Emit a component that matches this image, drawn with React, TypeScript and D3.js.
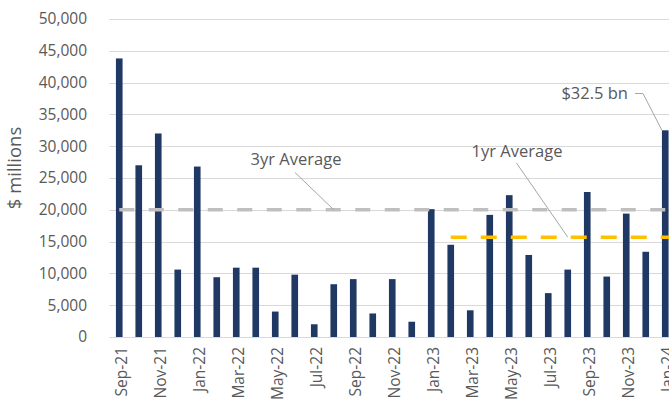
import React, { useEffect, useRef } from 'react';
import * as d3 from 'd3';

const months = [
  'Sep-21', 'Oct-21', 'Nov-21', 'Dec-21', 'Jan-22', 'Feb-22', 'Mar-22', 'Apr-22',
  'May-22', 'Jun-22', 'Jul-22', 'Aug-22', 'Sep-22', 'Oct-22', 'Nov-22', 'Dec-22',
  'Jan-23', 'Feb-23', 'Mar-23', 'Apr-23', 'May-23', 'Jun-23', 'Jul-23', 'Aug-23',
  'Sep-23', 'Oct-23', 'Nov-23', 'Dec-23', 'Jan-24',
];

const values = [
  43800, 27000, 32000, 10600, 26800, 9400, 10900, 10900,
  4000, 9800, 2000, 8300, 9100, 3700, 9100, 2400,
  20100, 14500, 4200, 19200, 22300, 12900, 6900, 10600,
  22800, 9500, 19400, 13400, 32500,
];

const yTicks = [0, 5000, 10000, 15000, 20000, 25000, 30000, 35000, 40000, 45000, 50000];

const avg3yr = 20000;
const avg1yr = 15700;
const avg1yrStart = 'Feb-23';

const width = 669;
const height = 404;
const font = '"Open Sans", sans-serif';
const textColor = '#595959';

const App = () => {
  const ref = useRef<SVGSVGElement>(null);

  useEffect(() => {
    const svg = d3.select(ref.current);
    svg.selectAll('*').remove();

    const margin = { top: 19, right: -6, bottom: 67, left: 109.5 };

    const x = d3
      .scaleBand()
      .domain(months)
      .range([margin.left, width - margin.right])
      .paddingInner(0.66)
      .paddingOuter(0.33);

    const y = d3
      .scaleLinear()
      .domain([0, 50000])
      .range([height - margin.bottom, margin.top]);

    const cx = (m) => x(m) + x.bandwidth() / 2;

    // gridlines
    svg.append('g')
      .selectAll('line')
      .data(yTicks)
      .join('line')
      .attr('x1', margin.left)
      .attr('x2', width)
      .attr('y1', (d) => Math.round(y(d)) + 0.5)
      .attr('y2', (d) => Math.round(y(d)) + 0.5)
      .attr('stroke', '#d9d9d9')
      .attr('stroke-width', 1);

    // y axis labels
    svg.append('g')
      .attr('transform', `translate(87,0)`)
      .call(d3.axisLeft(y).tickValues(yTicks).tickSize(0).tickPadding(0).tickFormat(d3.format(',')))
      .call((g) => g.select('.domain').remove())
      .selectAll('text')
      .attr('fill', textColor)
      .style('font-family', font)
      .style('font-size', '15.5px');

    svg.append('text')
      .attr('transform', `translate(21,${168}) rotate(-90)`)
      .attr('text-anchor', 'middle')
      .attr('fill', textColor)
      .style('font-family', font)
      .style('font-size', '18.5px')
      .text('$ millions');

    // bars
    svg.append('g')
      .attr('fill', '#1f3864')
      .selectAll('rect')
      .data(values)
      .join('rect')
      .attr('x', (d, i) => x(months[i]))
      .attr('width', x.bandwidth())
      .attr('y', (d) => y(d))
      .attr('height', (d) => y(0) - y(d));

    // x axis labels
    svg.append('g')
      .attr('transform', `translate(0,${y(0)})`)
      .call(
        d3.axisBottom(x)
          .tickSize(0)
          .tickPadding(0)
          .tickFormat((d, i) => (i % 2 === 0 ? d : ''))
      )
      .call((g) => g.select('.domain').remove())
      .selectAll('text')
      .attr('transform', 'rotate(-90)')
      .attr('text-anchor', 'end')
      .attr('x', -10)
      .attr('y', 2)
      .attr('dy', '0.35em')
      .attr('fill', textColor)
      .style('font-family', font)
      .style('font-size', '15.5px');

    // averages
    const line = d3.line<[number, number]>();
    svg.append('path')
      .attr('d', line([[cx(months[0]), y(avg3yr)], [cx(months[months.length - 1]) + 10, y(avg3yr)]]))
      .attr('stroke', '#bfbfbf')
      .attr('stroke-width', 3.5)
      .attr('stroke-dasharray', '15,14.5')
      .attr('fill', 'none');

    svg.append('path')
      .attr('d', line([[cx(avg1yrStart), y(avg1yr)], [cx(months[months.length - 1]) + 10, y(avg1yr)]]))
      .attr('stroke', '#ffc000')
      .attr('stroke-width', 3.5)
      .attr('stroke-dasharray', '16,14')
      .attr('fill', 'none');

    // annotations
    const leader = (pts) =>
      svg.append('path')
        .attr('d', line(pts))
        .attr('stroke', '#a6a6a6')
        .attr('stroke-width', 1)
        .attr('fill', 'none');

    const label = (tx, ty, anchor, txt) =>
      svg.append('text')
        .attr('x', tx)
        .attr('y', ty)
        .attr('dy', '0.35em')
        .attr('text-anchor', anchor)
        .attr('fill', textColor)
        .style('font-family', font)
        .style('font-size', '16.5px')
        .text(txt);

    const p3 = [cx('Aug-22'), y(avg3yr)];
    leader([[295, 172.5], p3]);
    label(296, 159.5, 'middle', '3yr Average');

    const p1 = [cx('Aug-23'), y(avg1yr)];
    leader([[516.5, 163], p1]);
    label(517, 151.5, 'middle', '1yr Average');

    const last = months[months.length - 1];
    const pb = [x(last), y(values[values.length - 1])];
    leader([[635, 93.5], [643, 93.5], pb]);
    label(628, 93.5, 'end', '$32.5 bn');
  }, []);

  return (
    <svg
      ref={ref}
      width={width}
      height={height}
      style={{ position: 'absolute', left: 0, top: 0, background: '#fff', overflow: 'hidden' }}
    />
  );
};

export default App;
